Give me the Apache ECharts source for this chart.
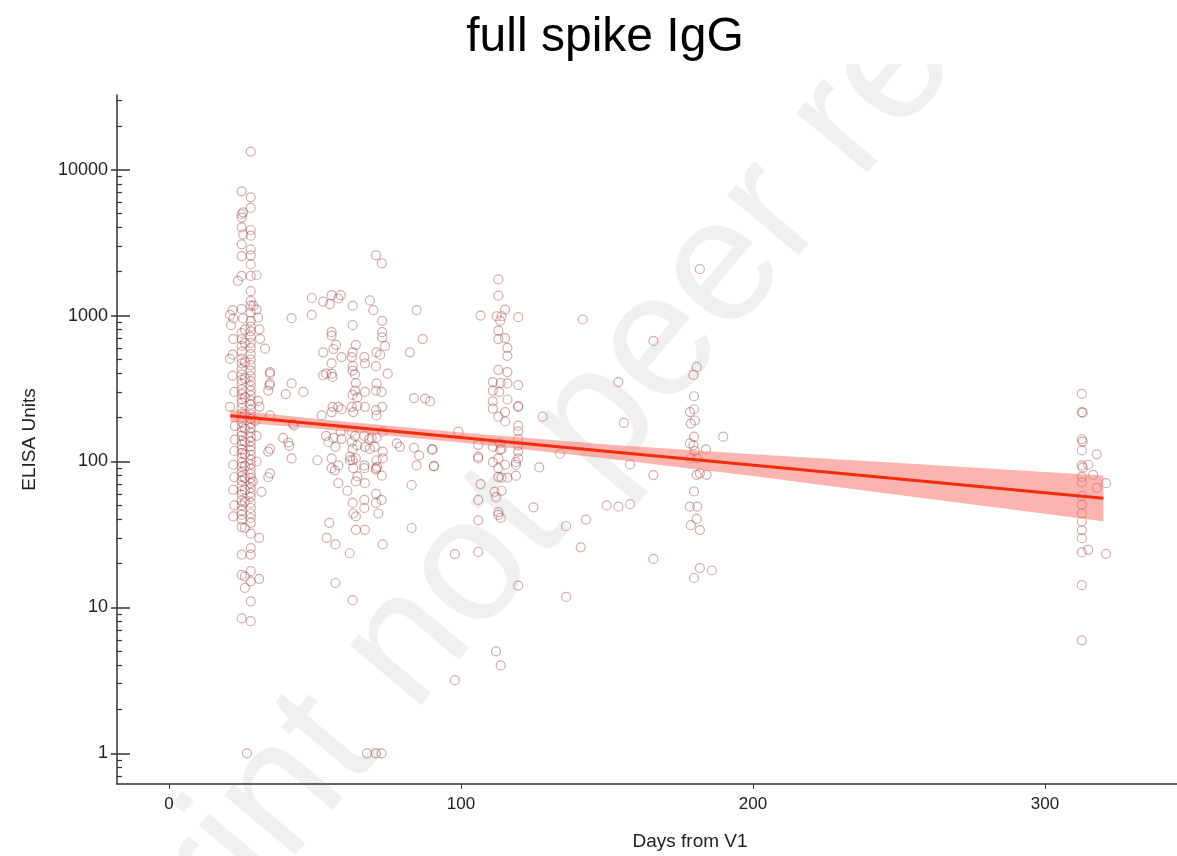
<!DOCTYPE html>
<html>
<head>
<meta charset="utf-8">
<title>full spike IgG</title>
<script src="https://cdn.jsdelivr.net/npm/echarts@6/dist/echarts.min.js"></script>
<style>
    html, body {margin: 0; padding: 0; background: #fff;}
    #chart {width: 1177px; height: 856px;}
</style>
</head>
<body>
<div id="chart"></div>
<script>
// points as [days from V1, ELISA units], grouped by visit
const visitWeek4 = [
    [28, 13300], [24.9, 7110], [28, 6470], [28, 5470], [25.4, 5100], [24.9, 4950], [24.9, 4700], [24.9, 4020],
    [28, 3860], [25.4, 3600], [28, 3530], [24.9, 3080], [28, 2840], [24.9, 2560], [28, 2590], [28, 2240],
    [24.9, 1870], [28, 1870], [30, 1890], [23.6, 1730], [28, 1470], [28, 1260], [28, 1170], [24.9, 1110],
    [21.8, 1090], [22, 955], [25.4, 955], [28, 1050], [28.9, 1170], [28, 920], [31.2, 693], [32.9, 593],
    [26, 805], [20.9, 1010], [21.2, 860],
    [24.9, 760], [24.9, 690], [24.9, 620], [24.9, 565], [24.9, 505], [24.9, 470], [24.9, 430], [24.9, 395],
    [24.9, 362], [24.9, 340], [24.9, 312], [24.9, 290], [24.9, 268], [24.9, 252], [24.9, 232], [24.9, 214],
    [24.9, 200], [24.9, 186], [24.9, 171], [24.9, 160], [24.9, 150], [24.9, 139], [24.9, 131], [24.9, 121],
    [24.9, 114], [24.9, 106], [24.9, 98], [24.9, 92], [24.9, 85], [24.9, 79], [24.9, 74], [24.9, 68],
    [24.9, 63], [24.9, 59], [24.9, 54], [24.9, 50], [24.9, 46], [24.9, 43], [24.9, 40], [24.9, 35.5],
    [24.9, 23], [24.9, 16.7], [24.9, 8.4],
    [28, 840], [28, 780], [28, 715], [28, 650], [28, 600], [28, 545], [28, 500], [28, 458], [28, 420],
    [28, 386], [28, 356], [28, 330], [28, 306], [28, 284], [28, 262], [28, 245], [28, 226], [28, 210],
    [28, 196], [28, 182], [28, 170], [28, 158], [28, 147], [28, 137], [28, 127], [28, 119], [28, 111],
    [28, 103], [28, 96], [28, 89], [28, 82], [28, 77], [28, 71], [28, 66], [28, 61], [28, 57], [28, 52],
    [28, 48], [28, 44], [28, 41], [28, 38], [28, 32], [28, 25.5], [28, 23], [28, 17.7], [28, 15.1],
    [28, 11], [28, 8.05],
    [26, 650], [26, 480], [26, 370], [26, 275], [26, 212], [26, 168], [26, 136], [26, 112], [26, 93],
    [26, 77], [26, 64], [26, 53], [26, 35], [26, 16.3], [26, 13.6], [26.7, 1],
    [22, 690], [21.8, 540], [20.9, 505], [21.8, 388], [22.4, 300], [20.9, 237], [22.6, 175], [22.6, 141],
    [22.4, 118], [22, 95], [22.4, 78], [22, 64], [22.4, 50], [22, 42],
    [30, 1100], [30.5, 970], [31, 805], [34.6, 410], [34.6, 400], [34.4, 334], [34, 306], [34.6, 343],
    [31, 237], [34.6, 207], [30.5, 260], [34, 117], [34.6, 122], [34, 78], [34.6, 83], [31.7, 62],
    [28.7, 73], [30, 100], [30.9, 30], [30.9, 15.7], [29.5, 190], [30, 150]
];

const visitMonth2 = [
    [70.9, 2590], [72.9, 2280], [48.9, 1320], [52.8, 1245], [55.1, 1200], [55.7, 1380], [58.8, 1380], [58, 1310],
    [62.9, 1170], [68.8, 1270], [70, 1090], [42, 960], [48.9, 1010], [84.8, 1090], [62.9, 860], [73, 920],
    [55.7, 770], [55.7, 730], [73, 770], [73, 710], [86.9, 690], [52.8, 560], [56.3, 590], [57.2, 630],
    [62.9, 560], [64, 630], [62.6, 520], [59.1, 520], [71.1, 560], [74, 620], [72.3, 540], [82.5, 560],
    [55.7, 470], [66.9, 520], [67.1, 470], [62.9, 450], [62.9, 420], [70.9, 450], [52.8, 390], [53.8, 400],
    [55.7, 400], [56, 380], [63.7, 395], [64, 345], [74.9, 400], [42, 343], [40, 290], [46, 300],
    [71.1, 343], [72.8, 300], [70.9, 306], [63.7, 306], [62.9, 286], [64.5, 275], [67.1, 300], [83.9, 272],
    [87.7, 270], [56, 237], [58, 237], [59.1, 228], [55.7, 218], [62.6, 237], [63.1, 218], [64.5, 240],
    [52.3, 207], [67.1, 237], [70.9, 225], [71.1, 207], [73, 237], [42.4, 182], [42.8, 177], [39.1, 145],
    [40.9, 135], [41.2, 128], [42, 105], [53.8, 150], [54.6, 136], [56.3, 145], [58.8, 160], [57, 126],
    [59.1, 143], [62.6, 160], [63.7, 150], [62.6, 136], [64.5, 129], [62.9, 122], [62, 108], [62.9, 102],
    [64, 105], [66.9, 150], [68.6, 143], [69.4, 145], [71.1, 145], [67.1, 126], [68.8, 122], [70.5, 126],
    [73.2, 160], [73.2, 117], [73.2, 105], [71.1, 102], [71.3, 92], [70.9, 90], [78, 133], [79.1, 126],
    [83.9, 124], [85.7, 110], [84.8, 94], [50.8, 102], [55.7, 105], [55.7, 90], [56.8, 87], [58, 94],
    [62, 102], [63.1, 90], [66.9, 90], [66.9, 94], [70.9, 88], [72.9, 80], [58, 71], [61.1, 63],
    [64, 73], [67.1, 71], [64.5, 79], [70.9, 60], [70.9, 52], [72.8, 54.5], [71.7, 44], [62.9, 52],
    [63.1, 44], [64, 42], [66.9, 54.5], [66.9, 48], [83.1, 69], [83.1, 35], [54.9, 38], [54, 30],
    [57, 27], [64, 34], [67.1, 34], [73.2, 27], [61.9, 23.5], [57, 14.7], [62.9, 11.2], [67.8, 1],
    [70.9, 1], [72.8, 1], [89.4, 258], [90, 121], [90.7, 93]
];

const visitMonth4 = [
    [112.8, 1770], [112.8, 1370], [115.1, 1100], [106.7, 1000], [112.2, 990], [113.9, 990], [113.4, 920],
    [119.6, 975], [141.7, 940], [112.8, 790], [112.8, 690], [115.1, 700], [115.9, 600], [115.9, 530],
    [112.8, 425], [115.9, 410], [110.9, 350], [113.6, 345], [115.9, 343], [110.9, 306], [113.1, 300],
    [119.6, 334], [110.9, 258], [110.9, 230], [115.9, 266], [119.6, 240], [119.6, 237], [115.1, 218],
    [112.8, 203], [115.1, 188], [128, 203], [119.6, 176], [119.6, 161], [119.6, 143], [119.6, 129],
    [119.6, 117], [99.1, 160], [105.9, 130], [105.9, 108], [105.9, 105], [110.9, 126], [113.4, 133],
    [113.4, 120], [113.9, 122], [90.3, 121], [90.8, 93], [110.9, 99], [112.8, 105], [112.8, 90],
    [115.1, 95], [118.8, 99], [118.8, 95], [119.6, 105], [133.9, 113], [126.8, 91], [112.8, 78.5],
    [113.9, 77.5], [115.9, 77.5], [118.8, 80], [106.7, 70], [111.5, 62], [113.9, 63], [112, 57],
    [105.9, 54.5], [124.8, 48.5], [112.8, 45], [113.6, 41], [112.8, 43], [105.9, 39.5], [142.8, 40],
    [136, 36], [141, 25.8], [97.9, 23.2], [105.9, 24], [119.6, 14.1], [136, 11.8], [112, 5], [113.6, 4],
    [97.9, 3.17]
];

const visitMonth6 = [
    [181.8, 2080], [165.9, 670], [180.7, 445], [179.6, 392], [153.9, 350], [179.8, 280], [178.4, 218],
    [179.8, 228], [180.1, 191], [178.7, 182], [155.8, 184], [189.8, 148], [179.8, 148], [178.4, 133],
    [179.6, 129], [180.1, 118], [178.7, 105], [180.9, 105], [183.9, 121], [157.9, 95.5], [165.9, 80.7],
    [180.7, 81], [181.8, 83], [184.1, 81], [179.8, 62.3], [178.4, 49], [180.9, 49], [149.9, 50],
    [153.9, 49], [157.9, 51], [180.7, 40.4], [178.7, 36.6], [181.8, 33.9], [165.9, 21.5], [181.8, 18.6],
    [185.9, 17.9], [179.8, 15.9]
];

const visitMonth10 = [
    [312.6, 291], [312.6, 218], [312.9, 216], [312.6, 142], [312.9, 137], [312.6, 119], [317.7, 112],
    [312.6, 94], [312.9, 91], [314.8, 95], [316.5, 81], [312.6, 78.5], [312.6, 72], [317.7, 66],
    [320.9, 71], [312.6, 58], [312.6, 50.5], [312.6, 44], [312.6, 38.8], [312.6, 33.8], [312.6, 29.8],
    [312.6, 23.8], [314.8, 24.8], [320.9, 23.3], [312.6, 14.2], [312.6, 5.95]
];

// fitted line and its confidence band
const fitDays = [21, 320];
const fitValues = [206, 56];
const bandDays = [21, 50, 100, 150, 200, 250, 300, 320];
const bandLower = [187.5, 168, 135, 105, 79.4, 59, 43.9, 38.9];
const bandUpper = [226, 196, 158, 131, 112, 97.5, 84.7, 80.2];

const xTicks = [0, 100, 200, 300];
const yTicks = [1, 10, 100, 1000, 10000];
const yMinorTicks = [0.7, 0.8, 0.9, 2, 3, 4, 5, 6, 7, 8, 9, 20, 30, 40, 50, 60, 70, 80, 90,
    200, 300, 400, 500, 600, 700, 800, 900, 2000, 3000, 4000, 5000, 6000, 7000, 8000, 9000, 20000, 30000];

const FONT = '"Liberation Sans", Arial, sans-serif';
const AXIS_COLOR = '#333';
const Y_MIN = 0.616;
const Y_MAX = 32500;

const allPoints = [].concat(visitWeek4, visitMonth2, visitMonth4, visitMonth6, visitMonth10);
const bandData = bandDays.map((d, i) => [d, bandLower[i], bandUpper[i]]);

const chart = echarts.init(document.getElementById('chart'));

// y axes: one carries the labels and outer ticks, the others only draw inner ticks
const yBase = {
    type: 'log',
    min: Y_MIN,
    max: Y_MAX,
    position: 'left',
    offset: 0,
    splitLine: {show: false},
};

chart.setOption({
    animation: false,
    backgroundColor: '#fff',
    title: {
        text: 'full spike IgG',
        left: 600,
        textAlign: 'center',
        top: 9,
        textStyle: {fontFamily: FONT, fontSize: 48, fontWeight: 'normal', color: '#000'},
    },
    graphic: [
        {
            // faint preprint watermark behind the plot
            type: 'text',
            z: -10,
            x: 612,
            y: 402,
            rotation: 50 * Math.PI / 180,
            style: {
                text: 'Preprint not peer reviewed',
                fontFamily: FONT,
                fontSize: 176,
                fill: '#f0f0f0',
                align: 'center',
                verticalAlign: 'middle',
            },
        },
        {
            type: 'rect',
            z: -9,
            shape: {x: 0, y: 0, width: 1177, height: 64},
            style: {fill: '#fff'},
        },
    ],
    grid: {left: 117, right: 0, top: 95, bottom: 69, containLabel: false},
    xAxis: {
        type: 'value',
        min: -17.8,
        max: 345.2,
        name: 'Days from V1',
        nameLocation: 'middle',
        nameGap: 48,
        nameTextStyle: {fontFamily: FONT, fontSize: 19, color: '#222', padding: [0, 0, 0, 86]},
        axisLine: {onZero: false, lineStyle: {color: AXIS_COLOR, width: 1.5}},
        axisTick: {show: true, length: 5, customValues: xTicks, lineStyle: {color: AXIS_COLOR}},
        axisLabel: {customValues: xTicks, margin: 12, fontFamily: FONT, fontSize: 17, color: '#222'},
        splitLine: {show: false},
    },
    yAxis: [
        Object.assign({}, yBase, {
            name: 'ELISA Units',
            nameLocation: 'middle',
            nameGap: 78,
            nameTextStyle: {fontFamily: FONT, fontSize: 19, color: '#222'},
            axisLine: {show: true, onZero: false, lineStyle: {color: AXIS_COLOR, width: 1.5}},
            axisTick: {show: true, length: 6, customValues: yTicks, lineStyle: {color: AXIS_COLOR, width: 1.5}},
            axisLabel: {
                customValues: yTicks,
                margin: 9,
                fontFamily: FONT,
                fontSize: 18,
                color: '#222',
                formatter: v => String(v),
            },
        }),
        Object.assign({}, yBase, {
            axisLine: {show: false, onZero: false},
            axisTick: {show: true, inside: true, length: 13, customValues: yTicks, lineStyle: {color: AXIS_COLOR, width: 1.5}},
            axisLabel: {show: false},
        }),
        Object.assign({}, yBase, {
            axisLine: {show: false, onZero: false},
            axisTick: {show: true, inside: true, length: 5, customValues: yMinorTicks, lineStyle: {color: AXIS_COLOR, width: 1.2}},
            axisLabel: {show: false},
        }),
    ],
    series: [
        {
            type: 'scatter',
            data: allPoints,
            symbol: 'circle',
            symbolSize: 9,
            z: 2,
            itemStyle: {
                color: 'rgba(255,255,255,0)',
                borderColor: 'rgba(150,45,45,0.5)',
                borderWidth: 1.2,
            },
        },
        {
            // confidence band as one polygon through the axis scales
            type: 'custom',
            data: bandData,
            z: 3,
            silent: true,
            renderItem: function (params, api) {
                if (params.dataIndex !== 0) {
                    return;
                }
                const upper = bandData.map(d => api.coord([d[0], d[2]]));
                const lower = bandData.map(d => api.coord([d[0], d[1]])).reverse();
                return {
                    type: 'polygon',
                    shape: {points: upper.concat(lower)},
                    style: {fill: 'rgba(248,105,95,0.5)'},
                };
            },
        },
        {
            type: 'line',
            data: fitDays.map((d, i) => [d, fitValues[i]]),
            showSymbol: false,
            z: 4,
            lineStyle: {color: '#f22c0c', width: 3},
        },
    ],
});
</script>
</body>
</html>
